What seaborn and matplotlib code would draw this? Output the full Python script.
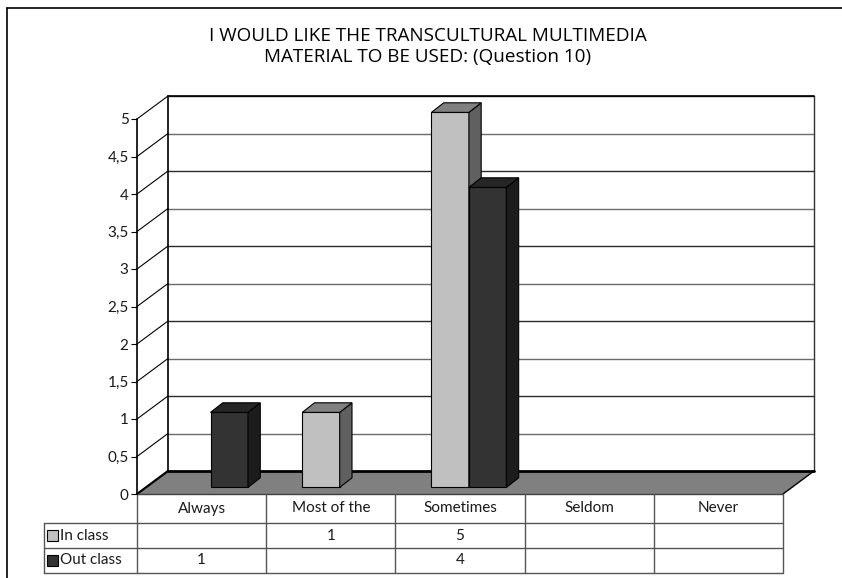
import numpy as np
import pandas as pd
import matplotlib
matplotlib.use("Agg")
import matplotlib.pyplot as plt
import seaborn as sns
from matplotlib.lines import Line2D
from matplotlib.patches import Polygon, Rectangle

categories = ["Always", "Most of the", "Sometimes", "Seldom", "Never"]
series = ["In class", "Out class"]
in_class = [np.nan, 1, 5, np.nan, np.nan]
out_class = [1, np.nan, 4, np.nan, np.nan]
y_ticks = [0, 0.5, 1, 1.5, 2, 2.5, 3, 3.5, 4, 4.5, 5]
y_tick_labels = ["0", "0,5", "1", "1,5", "2", "2,5", "3", "3,5", "4", "4,5", "5"]
title = "I WOULD LIKE THE TRANSCULTURAL MULTIMEDIA\nMATERIAL TO BE USED: (Question 10)"

front_colors = {"In class": "#c0c0c0", "Out class": "#333333"}
side_colors = {"In class": "#606060", "Out class": "#1c1c1c"}
top_colors = {"In class": "#808080", "Out class": "#262626"}

W, H = 842, 578
sns.set_theme(style="white")
plt.rcParams["font.family"] = ["Open Sans", "DejaVu Sans"]
narrow = ["Lato", "Open Sans", "DejaVu Sans"]
txt_c = "#1a1a1a"

fig = plt.figure(figsize=(W / 100, H / 100), dpi=100)
ax = fig.add_axes([137 / W, (H - 494) / H, 646 / W, 375 / H])

# pixel sizes in data units
px_x = 5 / 646
px_y = 5 / 375
depth_dx, depth_dy = 31 * px_x, 23 * px_y
bar_dx, bar_dy = 8.9 * px_x, 6.6 * px_y
bar_ddx, bar_ddy = 12.3 * px_x, 9.6 * px_y

df = pd.DataFrame({
    "category": categories * 2,
    "series": ["In class"] * len(categories) + ["Out class"] * len(categories),
    "value": in_class + out_class,
}).dropna()

sns.barplot(data=df, x="category", y="value", hue="series", order=categories,
            hue_order=series, palette=front_colors, width=0.58, saturation=1,
            edgecolor="black", linewidth=0.8, errorbar=None, legend=False, ax=ax)

ax.set_xlim(-0.5, 4.5)
ax.set_ylim(0, 5)

# turn the flat bars into boxes standing on the floor
for p in list(ax.patches):
    fc = matplotlib.colors.to_hex(p.get_facecolor())
    name = "In class" if fc == front_colors["In class"] else "Out class"
    z = 3 if name == "In class" else 4
    x0, w, h = p.get_x() + bar_dx, p.get_width(), p.get_height()
    p.set_x(x0)
    p.set_y(bar_dy)
    p.set_zorder(z)
    p.set_clip_on(False)
    side = [(x0 + w, bar_dy), (x0 + w, bar_dy + h),
            (x0 + w + bar_ddx, bar_dy + h + bar_ddy), (x0 + w + bar_ddx, bar_dy + bar_ddy)]
    top = [(x0, bar_dy + h), (x0 + w, bar_dy + h),
           (x0 + w + bar_ddx, bar_dy + h + bar_ddy), (x0 + bar_ddx, bar_dy + h + bar_ddy)]
    ax.add_patch(Polygon(side, closed=True, fc=side_colors[name], ec="black", lw=0.8,
                         zorder=z, clip_on=False))
    ax.add_patch(Polygon(top, closed=True, fc=top_colors[name], ec="black", lw=0.8,
                         zorder=z, clip_on=False))

# floor
xl, xr = -0.5, 4.5
floor = [(xl, 0), (xr, 0), (xr + depth_dx, depth_dy), (xl + depth_dx, depth_dy)]
ax.add_patch(Polygon(floor, closed=True, fc="#808080", ec="none", zorder=1, clip_on=False))
ax.plot([xl + depth_dx, xr + depth_dx], [depth_dy, depth_dy], color="black", lw=2,
        zorder=2, clip_on=False)
ax.plot([xl, xl + depth_dx], [0, depth_dy], color="black", lw=1.6, zorder=2, clip_on=False)
ax.plot([xr, xr + depth_dx], [0, depth_dy], color="black", lw=1, zorder=2, clip_on=False)

# back wall and side wall lines
for v in y_ticks[1:]:
    ax.plot([xl + depth_dx, xr + depth_dx], [v + depth_dy, v + depth_dy],
            color="#2a2a2a" if v % 1 == 0 else "#6a6a6a", lw=1, zorder=1.5, clip_on=False)
    ax.plot([xl, xl + depth_dx], [v, v + depth_dy], color="black", lw=0.8,
            zorder=1.5, clip_on=False)
ax.plot([xl + depth_dx, xl + depth_dx], [depth_dy, 5 + depth_dy], color="black", lw=1.2,
        zorder=1.5, clip_on=False)
ax.plot([xr + depth_dx, xr + depth_dx], [depth_dy, 5 + depth_dy], color="#303030", lw=1,
        zorder=1.5, clip_on=False)
ax.plot([xl + depth_dx, xr + depth_dx], [5 + depth_dy, 5 + depth_dy], color="black", lw=1.2,
        zorder=1.5, clip_on=False)

# axes styling
for s in ["top", "right", "bottom"]:
    ax.spines[s].set_visible(False)
ax.spines["left"].set_color("black")
ax.spines["left"].set_linewidth(1.2)
ax.set_yticks(y_ticks)
ax.set_yticklabels(y_tick_labels, family=narrow, fontsize=11, color=txt_c)
ax.tick_params(axis="y", left=True, direction="out", length=4, width=0.8, color="black", pad=2)
ax.set_xticks([])
ax.set_xlabel("")
ax.set_ylabel("")
ax.patch.set_alpha(0)

# data table under the chart
row_y = [0, -29 * px_y, -54 * px_y, -79 * px_y]
key_x = xl - 93 * px_x
line_c = "#555555"
ax.plot([xl, xr], [0, 0], color="#404040", lw=1, zorder=2, clip_on=False)
for y in row_y[1:]:
    ax.plot([key_x, xr], [y, y], color=line_c, lw=1, clip_on=False)
ax.plot([key_x, key_x], [row_y[1], row_y[3]], color=line_c, lw=1, clip_on=False)
for i in range(len(categories) + 1):
    ax.plot([xl + i, xl + i], [0, row_y[3]], color=line_c, lw=1, clip_on=False)

for i, cat in enumerate(categories):
    ax.text(i, (row_y[0] + row_y[1]) / 2, cat, ha="center", va="center", fontsize=11,
            family=narrow, color=txt_c, clip_on=False)

for r, (name, vals) in enumerate(zip(series, [in_class, out_class])):
    yc = (row_y[r + 1] + row_y[r + 2]) / 2
    ax.add_patch(Rectangle((key_x + 3 * px_x, yc - 5.5 * px_y), 11 * px_x, 11 * px_y,
                           fc=front_colors[name], ec="black", lw=0.8, clip_on=False))
    ax.text(key_x + 16 * px_x, yc, name, ha="left", va="center", fontsize=11,
            family=narrow, color=txt_c, clip_on=False)
    for i, v in enumerate(vals):
        if not np.isnan(v):
            ax.text(i, yc, f"{v:g}", ha="center", va="center", fontsize=11,
                    family=narrow, color=txt_c, clip_on=False)

# title and outer frame
fig.text(428 / W, 1 - 46.5 / H, title, ha="center", va="center", fontsize=13.6,
         color="black", linespacing=1.25)
fig.add_artist(Line2D([7 / W, 1], [1 - 8 / H, 1 - 8 / H], color="black", lw=1.2,
                      transform=fig.transFigure))
fig.add_artist(Line2D([7 / W, 7 / W], [0, 1 - 8 / H], color="black", lw=1.2,
                      transform=fig.transFigure))

fig.savefig("out.png", dpi=100, facecolor="white")
